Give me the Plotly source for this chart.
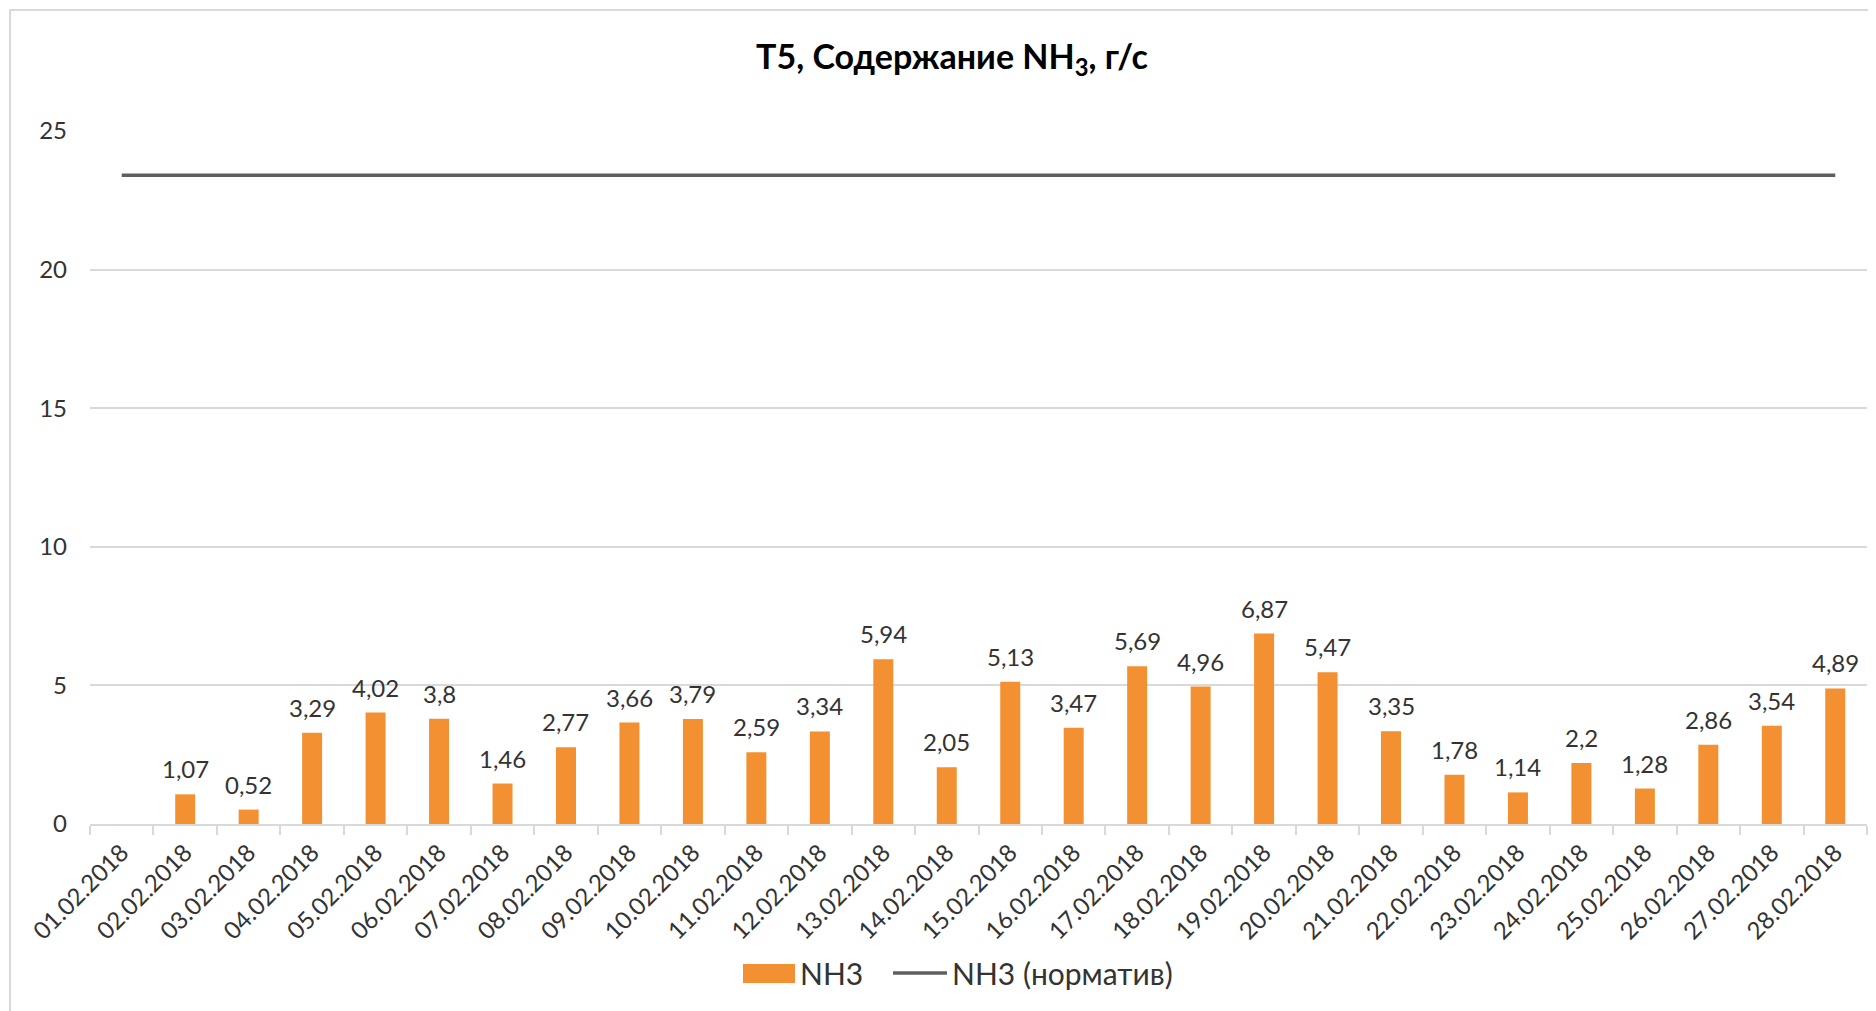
import plotly.graph_objects as go

# ---- data ----
dates = ["01.02.2018", "02.02.2018", "03.02.2018", "04.02.2018", "05.02.2018", "06.02.2018",
         "07.02.2018", "08.02.2018", "09.02.2018", "10.02.2018", "11.02.2018", "12.02.2018",
         "13.02.2018", "14.02.2018", "15.02.2018", "16.02.2018", "17.02.2018", "18.02.2018",
         "19.02.2018", "20.02.2018", "21.02.2018", "22.02.2018", "23.02.2018", "24.02.2018",
         "25.02.2018", "26.02.2018", "27.02.2018", "28.02.2018"]
nh3 = [None, 1.07, 0.52, 3.29, 4.02, 3.8, 1.46, 2.77, 3.66, 3.79, 2.59, 3.34, 5.94, 2.05,
       5.13, 3.47, 5.69, 4.96, 6.87, 5.47, 3.35, 1.78, 1.14, 2.2, 1.28, 2.86, 3.54, 4.89]
nh3_norm = [23.4, 23.4, 23.4, 23.4, 23.4, 23.4, 23.4, 23.4, 23.4, 23.4, 23.4, 23.4, 23.4, 23.4,
            23.4, 23.4, 23.4, 23.4, 23.4, 23.4, 23.4, 23.4, 23.4, 23.4, 23.4, 23.4, 23.4, 23.4]
y_ticks = [0, 5, 10, 15, 20, 25]
series_names = ["NH3", "NH3 (норматив)"]

BAR_COLOR = "#F39031"
LINE_COLOR = "#5f5f5f"

# ---- layout geometry (page has an 8px body margin) ----
OFF = 8
W, H = 1876 - OFF, 1011 - OFF
L, R, T, B = 90 - OFF, 1876 - 1867, 131 - OFF, 1011 - 824
PW, PH = W - L - R, H - T - B


def px_x(sx):
    """screen x (px) -> paper x"""
    return (sx - OFF - L) / PW


def px_y(sy):
    """screen y (px) -> paper y"""
    return (H - B - (sy - OFF)) / PH


FONT = "Lato, 'Open Sans', sans-serif"
TXT = "#333333"

fig = go.Figure()
fig.add_trace(go.Bar(
    x=dates, y=nh3, name=series_names[0], marker=dict(color=BAR_COLOR, line=dict(width=0)),
    showlegend=False,
))
fig.add_trace(go.Scatter(
    x=dates, y=nh3_norm, name=series_names[1], mode="lines",
    line=dict(color=LINE_COLOR, width=3.5), showlegend=False,
))

annotations = []
for d, v in zip(dates, nh3):
    if v is None:
        continue
    annotations.append(dict(
        x=d, y=v, xref="x", yref="y", text=f"{v:g}".replace(".", ","),
        showarrow=False, yanchor="bottom", yshift=9,
        font=dict(family=FONT, size=24, color=TXT),
    ))

# manual legend (matches the wide swatches of the reference)
leg_y = px_y(973)
annotations.append(dict(x=px_x(798), y=leg_y, xref="paper", yref="paper", text=series_names[0],
                        showarrow=False, xanchor="left", yanchor="middle",
                        font=dict(family=FONT, size=30, color=TXT)))
annotations.append(dict(x=px_x(950), y=leg_y, xref="paper", yref="paper", text=series_names[1],
                        showarrow=False, xanchor="left", yanchor="middle",
                        font=dict(family=FONT, size=30, color=TXT)))

shapes = [
    dict(type="rect", xref="paper", yref="paper",
         x0=px_x(10), x1=px_x(1876 + 20), y0=px_y(1011 + 20), y1=px_y(10),
         line=dict(color="#d9d9d9", width=2), fillcolor="rgba(0,0,0,0)", layer="below"),
    dict(type="rect", xref="paper", yref="paper",
         x0=px_x(743), x1=px_x(795), y0=px_y(983), y1=px_y(964),
         line=dict(width=0), fillcolor=BAR_COLOR),
    dict(type="line", xref="paper", yref="paper",
         x0=px_x(893), x1=px_x(947), y0=leg_y, y1=leg_y,
         line=dict(color=LINE_COLOR, width=3.5)),
]

fig.update_layout(
    width=W, height=H,
    margin=dict(l=L, r=R, t=T, b=B),
    paper_bgcolor="white", plot_bgcolor="white",
    title=dict(
        text="<b>T5, Содержание NH<sub>3</sub>, г/с</b>",
        x=(952 - OFF) / W, y=1 - (57 - OFF) / H, xanchor="center", yanchor="middle",
        font=dict(family=FONT, size=34, color="black"),
    ),
    bargap=0.685,
    showlegend=False,
    xaxis=dict(
        type="category", tickson="boundaries", ticks="outside", ticklen=9,
        tickcolor="#d9d9d9", tickwidth=2, showline=True, linecolor="#d9d9d9", linewidth=2,
        showgrid=False, tickangle=-45, tickfont=dict(family=FONT, size=24, color=TXT),
        range=[-0.5, len(dates) - 0.5], ticklabelstandoff=3,
    ),
    yaxis=dict(
        range=[0, 25], tickvals=y_ticks, showgrid=True, gridcolor="#d9d9d9", gridwidth=2,
        zeroline=False, showline=False, ticks="", ticklabelstandoff=22,
        tickfont=dict(family=FONT, size=24, color=TXT),
    ),
    annotations=annotations,
    shapes=shapes,
)

fig.write_html("out.html")
